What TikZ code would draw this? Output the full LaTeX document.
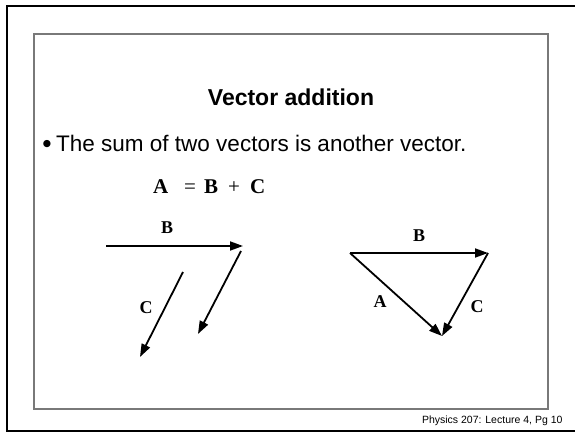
\documentclass[tikz,border=0pt]{standalone}
\usepackage{fontspec}
\setmainfont{Liberation Serif}
\setsansfont{Liberation Sans}
\newfontfamily\symfont{DejaVu Sans}
\usetikzlibrary{arrows.meta}
\tikzset{
  vec/.style={line width=1.8pt,-{Triangle[length=13pt,width=9pt]}},
  lbl/.style={font=\fontsize{18}{20}\selectfont\bfseries},
  eqpart/.style={font=\fontsize{21}{24}\selectfont,inner sep=0pt,anchor=base west},
}
\begin{document}
\begin{tikzpicture}[x=1pt,y=-1pt]
\useasboundingbox (0,0) rectangle (575,433);
% frames
\draw[line width=2.5pt] (575,6) -- (7,6) -- (7,431) -- (575,431);
\draw[line width=1.5pt,gray!95!black] (34,34) rectangle (548,409);
% texts
\node[font=\sffamily\bfseries\fontsize{23}{26}\selectfont] (title) at (291,97) {Vector addition};
\node[font=\symfont\fontsize{9.5}{12}\selectfont] (dot) at (47,144) {●};
\node[font=\sffamily\fontsize{22.5}{26}\selectfont,anchor=west,inner sep=0pt] (bullet) at (56,143) {The sum of two vectors is another vector.};
\node[eqpart] (eqA) at (153,193) {\textbf{A}};
\node[eqpart] (eqeq) at (184,193) {=};
\node[eqpart] (eqB) at (204,193) {\textbf{B}};
\node[eqpart] (eqplus) at (228,193) {+};
\node[eqpart] (eqC) at (250,193) {\textbf{C}};
\node[font=\sffamily\fontsize{10.5}{12}\selectfont,anchor=east] (foot) at (566,421) {Physics 207: Lecture 4, Pg 10};
% left figure
\coordinate (b1) at (106,246);
\coordinate (b2) at (243,246);
\coordinate (c1) at (241,251);
\coordinate (c2) at (198,334);
\coordinate (d1) at (183,272);
\coordinate (d2) at (140,357);
\draw[vec] (b1) -- (b2);
\draw[vec] (c1) -- (c2);
\draw[vec] (d1) -- (d2);
\node[lbl] (lB) at (167,228) {B};
\node[lbl] (lC) at (146,308) {C};
% right figure
\coordinate (p) at (350,253);
\coordinate (q) at (488,253);
\coordinate (r) at (442,336);
\draw[vec] (p) -- (q);
\draw[vec] (q) -- (r);
\draw[vec] (p) -- (r);
\node[lbl] (rB) at (419,236) {B};
\node[lbl] (rA) at (380,302) {A};
\node[lbl] (rC) at (477,307) {C};
\end{tikzpicture}
\end{document}
